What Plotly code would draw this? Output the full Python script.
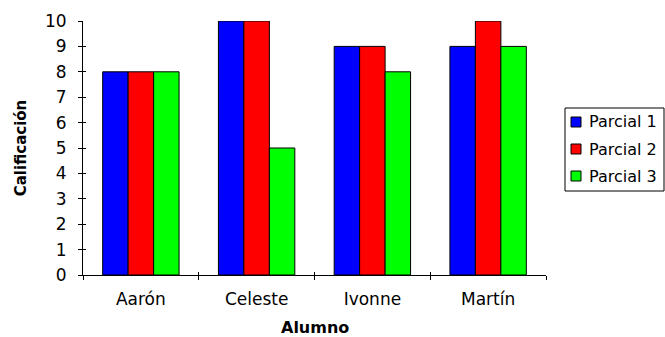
import plotly.graph_objects as go

alumnos = ["Aarón", "Celeste", "Ivonne", "Martín"]
series_names = ["Parcial 1", "Parcial 2", "Parcial 3"]
parcial_1 = [8, 10, 9, 9]
parcial_2 = [8, 10, 9, 10]
parcial_3 = [8, 5, 8, 9]
series_values = [parcial_1, parcial_2, parcial_3]
colors = ["#0000FF", "#FF0000", "#00FF00"]

W, H = 665, 337
L, R, T, B = 83, 119, 21, 62
PW, PH = W - L - R, H - T - B

FONT = "DejaVu Sans"

def px_x(px):
    return (px - L) / PW

def px_y(py):
    return (H - B - py) / PH

fig = go.Figure()
for name, vals, col in zip(series_names, series_values, colors):
    fig.add_trace(go.Bar(
        x=alumnos, y=vals, name=name,
        marker=dict(color=col, line=dict(color="black", width=1)),
        showlegend=False,
    ))
# empty helper trace so the overlay axes (inner half of crossing ticks) are drawn
fig.add_trace(go.Scatter(x=[None], y=[None], xaxis="x2", yaxis="y2",
                         mode="markers", showlegend=False, hoverinfo="skip"))

fig.update_layout(
    width=W, height=H,
    margin=dict(l=L, r=R, t=T, b=B, pad=0),
    paper_bgcolor="white", plot_bgcolor="white",
    barmode="group", bargap=0.34, bargroupgap=0,
    font=dict(family=FONT, size=17, color="black"),
    xaxis=dict(
        type="category", categoryorder="array", categoryarray=alumnos,
        range=[-0.5, 3.5], showline=True, linecolor="black", linewidth=1,
        tickson="boundaries", ticks="outside", ticklen=4, tickcolor="black",
        showgrid=False, ticklabelstandoff=9, automargin=False,
    ),
    xaxis2=dict(
        overlaying="x", anchor="y2", range=[-0.5, 3.5],
        tickvals=[0.5, 1.5, 2.5, 3.5], ticks="inside", ticklen=3,
        tickcolor="black", showticklabels=False, showgrid=False,
        showline=False, zeroline=False, automargin=False,
    ),
    yaxis=dict(
        range=[0, 10], dtick=1, showline=True, linecolor="black", linewidth=1,
        ticks="outside", ticklen=4, tickcolor="black", showgrid=False,
        zeroline=False, ticklabelstandoff=8, automargin=False,
        title=dict(text="<b>Calificación</b>", font=dict(size=15), standoff=14),
    ),
    yaxis2=dict(
        overlaying="y", anchor="x2", range=[0, 10], dtick=1,
        ticks="inside", ticklen=3, tickcolor="black", automargin=False,
        showticklabels=False, showgrid=False, showline=False, zeroline=False,
    ),
)

# x-axis title placed as annotation for exact vertical position
annotations = [dict(text="<b>Alumno</b>", xref="paper", yref="paper",
                    x=0.5, y=px_y(327), xanchor="center", yanchor="middle",
                    showarrow=False, borderpad=0, font=dict(size=16))]

# Legend drawn manually (box, swatches, labels)
shapes = [dict(type="rect", xref="paper", yref="paper",
               x0=px_x(565), x1=px_x(664), y0=px_y(191), y1=px_y(108),
               line=dict(color="black", width=1), fillcolor="white")]
item_y = [122, 149, 176]
for name, col, yy in zip(series_names, colors, item_y):
    shapes.append(dict(type="rect", xref="paper", yref="paper",
                       x0=px_x(571), x1=px_x(581), y0=px_y(yy + 5), y1=px_y(yy - 5),
                       line=dict(color="black", width=1), fillcolor=col))
    annotations.append(dict(text=name, xref="paper", yref="paper",
                            x=px_x(587), y=px_y(yy), xanchor="left", yanchor="middle",
                            showarrow=False, font=dict(size=16)))
fig.update_layout(shapes=shapes, annotations=annotations)

fig.write_html("out.html")
